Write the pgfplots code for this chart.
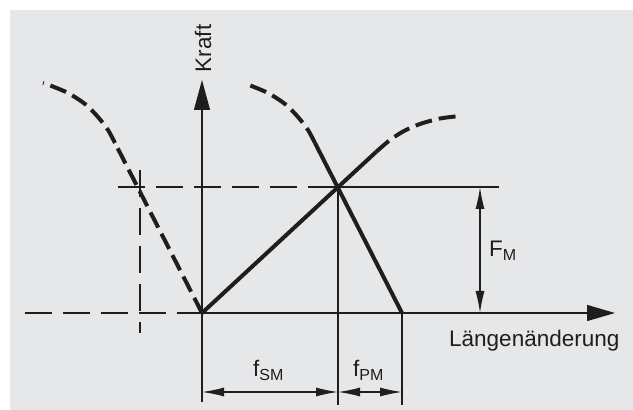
\documentclass[border=0pt]{standalone}
\usepackage{pgfplots}
\pgfplotsset{compat=1.18}
\usepackage{fontspec}
\setmainfont{Liberation Sans}
\usetikzlibrary{arrows.meta}
\definecolor{panel}{RGB}{230,231,233}
\definecolor{ink}{RGB}{30,30,30}
\newcommand\sub[1]{\raisebox{-4pt}{\fontsize{16}{16}\selectfont #1}}
\tikzset{
  thin/.style={line width=1.3pt, color=ink},
  thick/.style={line width=4pt, color=ink},
  tdash/.style={dash pattern=on 27pt off 11pt},
  kdash/.style={dash pattern=on 17pt off 7pt},
  dim/.style={thin, {Latex[length=22pt,width=9pt]}-{Latex[length=22pt,width=9pt]}},
  lbl/.style={anchor=base west, inner sep=0pt, text=ink, font=\fontsize{22.5}{26}\selectfont},
}

\begin{document}
\begin{tikzpicture}
\begin{axis}[
  width=633pt, height=410pt, scale only axis,
  xmin=0, xmax=633, ymin=0, ymax=410,
  hide axis, clip=false,
]
\fill[white] (axis cs:0,0) rectangle (axis cs:633,410);
\fill[panel] (axis cs:10,0) rectangle (axis cs:633,400);

% axes
\addplot[thin, -{Triangle[length=30pt,width=16pt]}] coordinates {(202,8)(202,330)};
\addplot[thin, -{Triangle[length=28pt,width=16pt]}] coordinates {(202,97)(615,97)};
\addplot[thin, tdash] coordinates {(25,97)(202,97)};

% F_M level
\addplot[thin, tdash] coordinates {(118,223)(338,223)};
\addplot[thin] coordinates {(338,223)(499,223)};
\addplot[thin, tdash] coordinates {(140,240)(140,77)};

% extension lines
\addplot[thin] coordinates {(338,223)(338,5)};
\addplot[thin] coordinates {(402,97)(402,5)};

% spring (Schraube)
\addplot[thick] coordinates {(202,97)(376,258)};
\addplot[thick, kdash, smooth] coordinates {(376,258)(390,270)(404,279)(420,286)(440,291.5)(460,294)};

% plate (Platte)
\addplot[thick] coordinates {(402,97)(315,267)};
\addplot[thick, kdash, smooth] coordinates {(315,267)(308,280)(298,293)(285,306)(268,317)(249,325)};

% shifted plate curve, left
\addplot[thick, kdash] coordinates {(202,97)(115,267)};
\addplot[thick, kdash, smooth] coordinates {(115,267)(108,280)(98,293)(85,306)(68,317)(49,325)(43,327)};

% dimensions
\addplot[dim] coordinates {(202,18)(338,18)};
\addplot[dim] coordinates {(338,18)(402,18)};
\addplot[dim] coordinates {(480,223)(480,97)};

\node[rotate=90, anchor=base, text=ink, font=\fontsize{22.5}{26}\selectfont]
  at (axis cs:211,361.5) {Kraft};
\node[lbl] at (axis cs:449,63) {Längenänderung};
\node[lbl] at (axis cs:489,153) {F\sub{M}};
\node[lbl] at (axis cs:253,33) {f\sub{SM}};
\node[lbl] at (axis cs:353,33) {f\sub{PM}};
\end{axis}
\end{tikzpicture}
\end{document}
